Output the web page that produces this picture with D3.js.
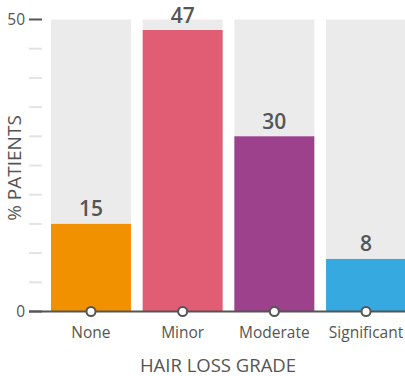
<!DOCTYPE html>
<html>
<head>
<meta charset="utf-8">
<script src="https://cdn.jsdelivr.net/npm/d3@7"></script>
<style>
  body { margin: 0; background: #fff; }
  text { font-family: "Open Sans", Lato, sans-serif; fill: #555; }
</style>
</head>
<body>
<div id="chart"></div>
<script>
var categories = ['None', 'Minor', 'Moderate', 'Significant'];
// printed labels
var labels = [15, 47, 30, 8];
// bar heights as drawn in the picture
var values = [15, 48.2, 30, 9];
var colors = ['#F29100', '#E05D73', '#9D418D', '#36A9E0'];
var yMax = 50;
var yTicks = d3.range(0, 51, 5);

var width = 405, height = 376;

var svg = d3.select('#chart').append('svg')
	.attr('width', width)
	.attr('height', height);

var xScale = d3.scaleBand()
	.domain(categories)
	.range([51, 406])
	.paddingInner(0.128)
	.paddingOuter(0);

var yScale = d3.scaleLinear()
	.domain([0, yMax])
	.range([311.5, 19.5]);

// background columns
svg.selectAll('.bg')
	.data(categories)
	.enter().append('rect')
	.attr('x', d => xScale(d))
	.attr('y', yScale(yMax))
	.attr('width', xScale.bandwidth())
	.attr('height', yScale(0) - yScale(yMax))
	.attr('fill', '#EBEBEB');

// bars
svg.selectAll('.bar')
	.data(values)
	.enter().append('rect')
	.attr('x', (d, i) => xScale(categories[i]))
	.attr('y', d => yScale(d))
	.attr('width', xScale.bandwidth())
	.attr('height', d => yScale(0) - yScale(d))
	.attr('fill', (d, i) => colors[i]);

// value labels
svg.selectAll('.val')
	.data(values)
	.enter().append('text')
	.attr('x', (d, i) => xScale(categories[i]) + xScale.bandwidth() / 2)
	.attr('y', d => yScale(d) - 7.5)
	.attr('text-anchor', 'middle')
	.style('font-size', '21px')
	.style('font-weight', '600')
	.text((d, i) => labels[i]);

// y ticks
svg.selectAll('.ytick')
	.data(yTicks)
	.enter().append('line')
	.attr('x1', 29)
	.attr('x2', 42)
	.attr('y1', d => yScale(d))
	.attr('y2', d => yScale(d))
	.attr('stroke', d => (d === 0 || d === yMax) ? '#555' : '#e3e3e3')
	.attr('stroke-width', 2);

svg.selectAll('.ylab')
	.data([0, yMax])
	.enter().append('text')
	.attr('x', 25)
	.attr('y', d => yScale(d) + 5.5)
	.attr('text-anchor', 'end')
	.style('font-size', '15.5px')
	.text(d => d);

// axis line
svg.append('line')
	.attr('x1', 29)
	.attr('x2', width)
	.attr('y1', yScale(0))
	.attr('y2', yScale(0))
	.attr('stroke', '#555')
	.attr('stroke-width', 2);

// markers on axis
svg.selectAll('.dot')
	.data(categories)
	.enter().append('circle')
	.attr('cx', d => xScale(d) + xScale.bandwidth() / 2)
	.attr('cy', yScale(0))
	.attr('r', 4.5)
	.attr('fill', '#fff')
	.attr('stroke', '#555')
	.attr('stroke-width', 2);

// category labels
svg.selectAll('.xlab')
	.data(categories)
	.enter().append('text')
	.attr('x', d => xScale(d) + xScale.bandwidth() / 2)
	.attr('y', 338)
	.attr('text-anchor', 'middle')
	.style('font-size', '15.5px')
	.text(d => d);

// axis titles
svg.append('text')
	.attr('x', 218)
	.attr('y', 372)
	.attr('text-anchor', 'middle')
	.style('font-size', '18.5px')
	.text('HAIR LOSS GRADE');

svg.append('text')
	.attr('transform', 'translate(21,168) rotate(-90)')
	.attr('text-anchor', 'middle')
	.style('font-size', '19px')
	.text('% PATIENTS');
</script>
</body>
</html>
